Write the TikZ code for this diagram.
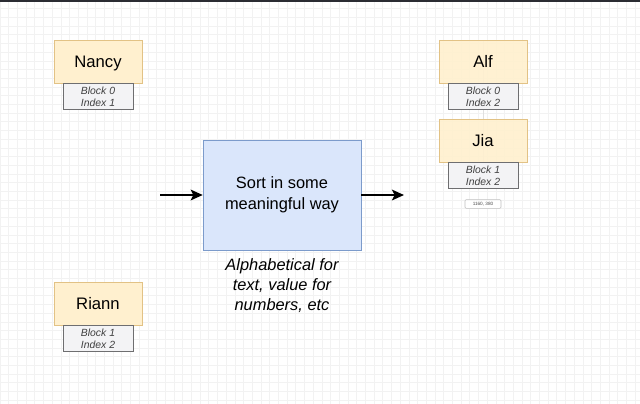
\documentclass[tikz,border=0pt]{standalone}
\usepackage{fontspec}
\setmainfont{Liberation Sans}
\usetikzlibrary{arrows.meta}
\usetikzlibrary{positioning}

\definecolor{namefill}{HTML}{FFF0CF}
\definecolor{namedraw}{HTML}{E2C285}
\definecolor{infofill}{HTML}{F3F3F5}
\definecolor{infodraw}{HTML}{6E6E70}
\definecolor{sortfill}{HTML}{DAE6FB}
\definecolor{sortdraw}{HTML}{7C9BCB}
\definecolor{gridline}{HTML}{F2F2F2}
\definecolor{topbar}{HTML}{2B2C33}

\begin{document}
\begin{tikzpicture}[
  x=0.75pt, y=-0.75pt,
  > = {Stealth[length=9pt, width=8pt, inset=2pt]},
  namebox/.style = {draw=namedraw, fill=namefill, minimum width=66pt, minimum height=32.25pt, inner sep=0pt, text height=9pt, text depth=0pt, font=\fontsize{12.5}{14}\selectfont},
  infobox/.style = {draw=infodraw, fill=infofill, minimum width=52.5pt, minimum height=19.5pt, inner sep=0pt, align=center, text=black!75, font=\fontsize{7.8}{9.2}\selectfont\itshape},
  sortbox/.style = {draw=sortdraw, fill=sortfill, minimum width=118.5pt, minimum height=82.5pt, align=center, font=\fontsize{12.3}{15.5}\selectfont},
  flow/.style = {->, line width=1.6pt}
  ]
	\useasboundingbox (0,0) rectangle (640,404);
	\fill[white] (0,0) rectangle (640,404);
	\foreach \gx in {0,8.7,...,640} \draw[gridline, line width=0.5pt] (\gx,0) -- (\gx,404);
	\foreach \gy in {0,8.7,...,404} \draw[gridline, line width=0.5pt] (0,\gy) -- (640,\gy);
	\fill[topbar] (0,0) rectangle (640,2);

	\coordinate (@nancy) at (98,61.5);
	\coordinate (@riann) at (98,303.5);
	\coordinate (@alf) at (483,61.5);
	\coordinate (@jia) at (483,140.5);

	\node[namebox] (nancy) at (@nancy) {Nancy};
	\node[infobox, below=0pt of nancy] (nancyinfo) {Block 0\\Index 1};
	\node[namebox] (riann) at (@riann) {Riann};
	\node[infobox, below=0pt of riann] (rianninfo) {Block 1\\Index 2};

	\draw[black!12, line width=0.4pt] (483,40) -- (483,188);
	\node[namebox, fill opacity=0.92, text opacity=1] (alf) at (@alf) {Alf};
	\node[infobox, below=0pt of alf] (alfinfo) {Block 0\\Index 2};
	\node[namebox, fill opacity=0.92, text opacity=1] (jia) at (@jia) {Jia};
	\node[infobox, below=0pt of jia] (jiainfo) {Block 1\\Index 2};
	\node[draw=black!25, fill=white, rounded corners=0.8pt, minimum width=27pt, minimum height=6.5pt, inner sep=0pt, font=\fontsize{3.5}{4}\selectfont, text=black!70, below=8pt of jiainfo] (coords) {1160, 380};

	\node[sortbox] (sort) at (282,195) {Sort in some\\meaningful way};
	\node[below=3pt of sort, align=center, font=\fontsize{12.3}{15}\selectfont\itshape] (note) {Alphabetical for\\text, value for\\numbers, etc};

	\coordinate (in) at (160,195);
	\coordinate (out) at (404,195);
	\draw[flow] (in) -- (sort.west);
	\draw[flow] (sort.east) -- (out);

\end{tikzpicture}
\end{document}
